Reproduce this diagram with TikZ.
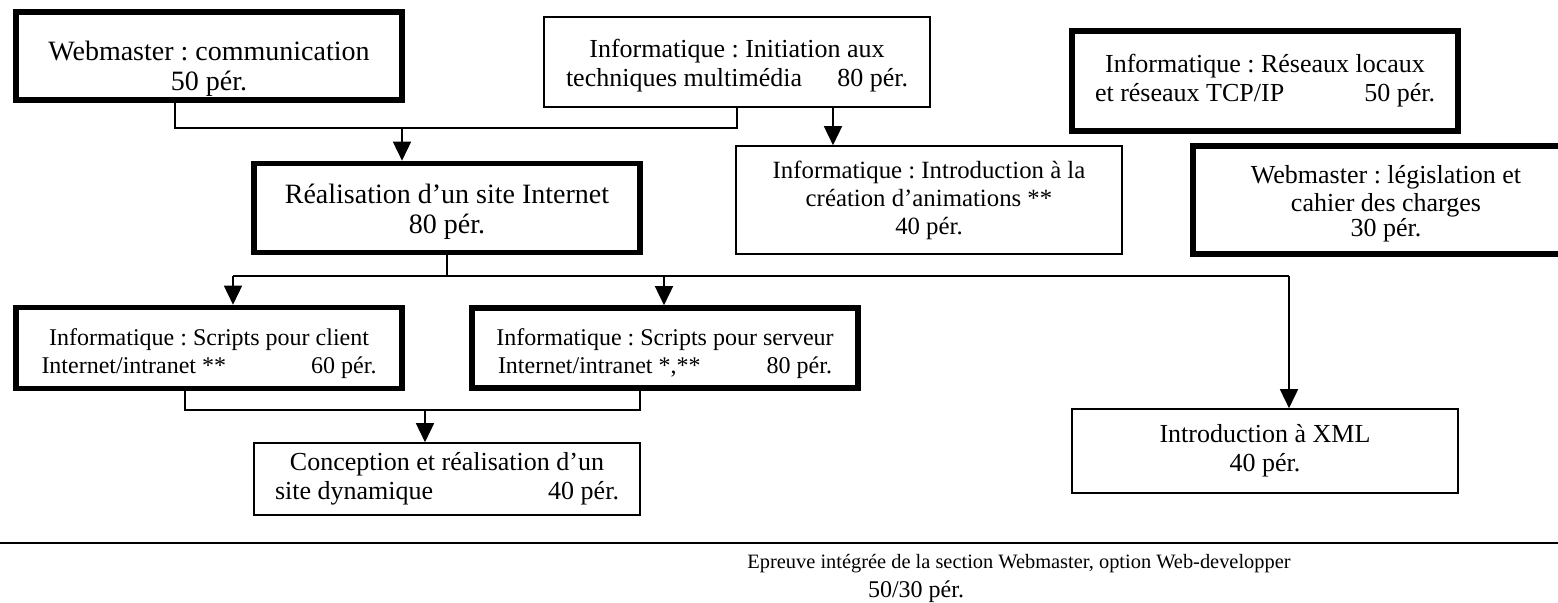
\documentclass[tikz,border=0pt]{standalone}
\usepackage{fontspec}
\setmainfont{Liberation Serif}
\usepackage{tikz}
\usetikzlibrary{arrows.meta}
\tikzset{module/.style={draw,rectangle,line width=0.8pt,align=center,inner sep=0,
    minimum width=193pt,font=\fontsize{13}{14.5}\selectfont},
  module fort/.style={module,line width=2.8pt},
  petit/.style={font=\fontsize{12}{14}\selectfont},
  grand/.style={font=\fontsize{14}{15}\selectfont},
  link/.style={line width=0.8pt},
  link arrow/.style={link,-{Triangle[width=9pt,length=9.5pt]}}}
\newcommand\spread[3]{\makebox[#1]{#2\hfill#3}}
\frenchspacing

\begin{document}
\begin{tikzpicture}[x=0.5pt,y=-0.5pt]
  \useasboundingbox (0,0) rectangle (1558,603);

  \node[module fort, grand, minimum height=44pt] (webcom) at (209,56) {\rule{0pt}{22pt}Webmaster : communication\\50 pér.};
  \node[module, minimum height=45pt] (multi) at (737,62) {\rule{0pt}{13pt}Informatique : Initiation aux\\\spread{171pt}{techniques multimédia}{80 pér.}};
  \node[module fort, minimum height=50pt] (reseaux) at (1265,81) {Informatique : Réseaux locaux\\\spread{170pt}{et réseaux TCP/IP}{50 pér.}};
  \node[module fort, font=\fontsize{13}{14}\selectfont, minimum height=54pt] (legis) at (1386,200) {\rule{0pt}{13pt}Webmaster : législation et\\cahier des charges\\[-1.5pt]30 pér.};
  \node[module fort, grand, minimum height=44.5pt] (realis) at (447,208) {\rule{0pt}{13pt}Réalisation d’un site Internet\\80 pér.};
  \node[module, font=\fontsize{12.4}{14}\selectfont, minimum height=54pt] (anim) at (929,200) {Informatique : Introduction à la\\création d’animations **\\40 pér.};
  \node[module fort, petit, minimum height=40.5pt] (client) at (209,348) {\rule{0pt}{14.5pt}Informatique : Scripts pour client\\\spread{167.5pt}{Internet/intranet **}{60 pér.}};
  \node[module fort, petit, minimum height=40pt] (serveur) at (665,348) {\rule{0pt}{14.5pt}Informatique : Scripts pour serveur\\\spread{167pt}{Internet/intranet *,**}{80 pér.}};
  \node[module, minimum height=36pt] (dyna) at (447,479) {Conception et réalisation d’un\\\spread{172pt}{site dynamique}{40 pér.}};
  \node[module, minimum height=42pt] (xml) at (1265,451) {Introduction à XML\\40 pér.};

  \draw[link] (0,543) -- (1558,543);
  \node[font=\fontsize{10.2}{12}\selectfont] (epreuve) at (1019,564) {Epreuve intégrée de la section Webmaster, option Web-developper};
  \node[petit] (periodes) at (916,592) {50/30 pér.};

  \coordinate (j1) at (175,128);
  \coordinate (j2) at (402,128);
  \coordinate (j3) at (833,107);
  \draw[link] (webcom.south -| j1) -- (j1) -| (multi.south);
  \draw[link arrow] (j2) -- (j2 |- realis.north);
  \draw[link arrow] (multi.south -| j3) -- (j3 |- anim.north);

  \coordinate (s1) at (233,276);
  \coordinate (s2) at (664,276);
  \coordinate (s3) at (1289,276);
  \draw[link] (realis.south) -- (realis.south |- s1);
  \draw[link] (s1) -- (s3);
  \draw[link arrow] (s1) -- (s1 |- client.north);
  \draw[link arrow] (s2) -- (s2 |- serveur.north);
  \draw[link arrow] (s3) -- (s3 |- xml.north);

  \coordinate (m1) at (185,410);
  \coordinate (m2) at (640,410);
  \coordinate (m3) at (425,410);
  \draw[link] (client.south -| m1) -- (m1) -- (m2) -- (m2 |- serveur.south);
  \draw[link arrow] (m3) -- (m3 |- dyna.north);

\end{tikzpicture}
\end{document}
